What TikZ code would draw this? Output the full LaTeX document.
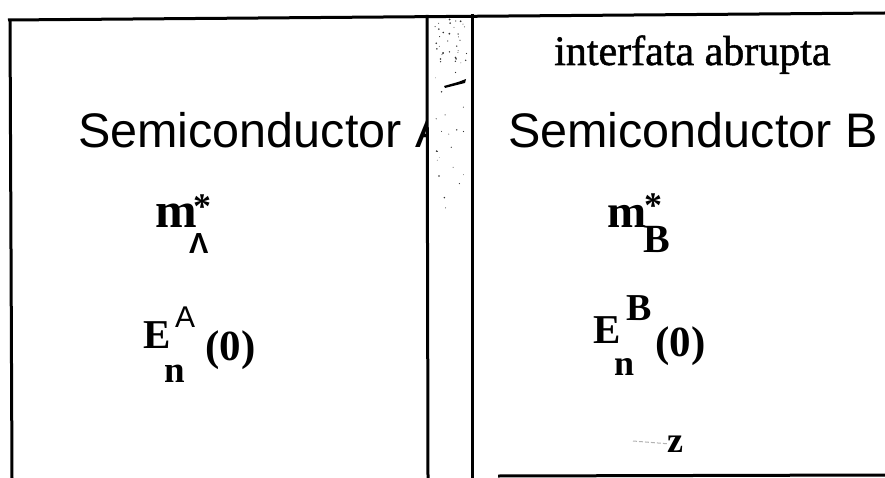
\documentclass[tikz,border=0pt]{standalone}
\usepackage{fontspec}
\setmainfont{Liberation Serif}
\newfontfamily\helv{Liberation Sans}
\newfontfamily\thickserif[FakeBold=1.2]{Liberation Serif}
\begin{document}
\begin{tikzpicture}[x=1pt,y=-1pt,
  frame/.style={line width=3pt,black},
  sans/.style={inner sep=0pt,anchor=base west,font=\helv\fontsize{48.5}{48.5}\selectfont},
  serif/.style={inner sep=0pt,anchor=base west,font=\thickserif\fontsize{42}{42}\selectfont},
  lbl/.style={inner sep=0pt,anchor=base west,font=\bfseries\fontsize{#1}{#1}\selectfont},
  slbl/.style={inner sep=0pt,anchor=base west,font=\helv\fontsize{#1}{#1}\selectfont},
  star/.style={inner sep=0pt,anchor=center,font=\bfseries\fontsize{36}{36}\selectfont},
  speck/.style={fill=black!80}]
\useasboundingbox (0,0) rectangle (885,478);
% frame lines
\draw[frame] (8,20) -- (885,13);
\draw[frame] (10,20) -- (12,478);
\draw[frame] (427,15) -- (428,478);
\draw[frame] (472,14) -- (472,478);
\draw[frame] (498,476) -- (885,475);
% speckles in the interface strip
\pgfmathsetseed{7}
\foreach \i in {1,...,35}{
  \pgfmathsetmacro{\sx}{435+32*rnd}
  \pgfmathsetmacro{\sy}{18+45*rnd}
  \pgfmathsetmacro{\sr}{0.4+0.6*rnd}
  \fill[speck] (\sx,\sy) circle (\sr pt);
}
\foreach \i in {1,...,22}{
  \pgfmathsetmacro{\sx}{435+32*rnd}
  \pgfmathsetmacro{\sy}{70+160*rnd}
  \pgfmathsetmacro{\sr}{0.3+0.6*rnd}
  \fill[speck] (\sx,\sy) circle (\sr pt);
}
\fill[black] (444,86) -- (458,82) -- (466,79) -- (465,83) -- (457,85) -- (445,88) -- cycle;
% left block texts
\begin{scope}
  \clip (0,0) rectangle (426,478);
  \node[sans] (semA) at (78,148) {Semiconductor A};
\end{scope}
\node[lbl=50] (mA) at (155,228) {m};
\node[star] (starA) at (202,207) {*};
\node[slbl=29] (subA) at (189,254) {\bfseries Λ};
\node[lbl=41] (EA) at (143,348) {E};
\node[slbl=30] (supA) at (175,327) {A};
\node[lbl=37] (nA) at (164,382) {n};
\node[lbl=43] (zeroA) at (205,360) {(0)};
% right block texts
\node[serif] (interf) at (554,65) {interfata abrupta};
\node[sans] (semB) at (508,148) {Semiconductor B};
\node[lbl=47] (mB) at (607,227) {m};
\node[star] (starB) at (653,206) {*};
\node[lbl=40] (subB) at (643,252) {B};
\node[lbl=41] (EB) at (593,343) {E};
\node[lbl=38] (supB) at (626,320) {B};
\node[lbl=36] (nB) at (614,375) {n};
\node[lbl=43] (zeroB) at (655,356) {(0)};
\node[lbl=36] (z) at (667,452) {z};
\coordinate (zt) at (633,441);
\draw[gray!60,line width=1pt,dash pattern=on 4pt off 2pt] (zt) -- (z.west);
\end{tikzpicture}
\end{document}
